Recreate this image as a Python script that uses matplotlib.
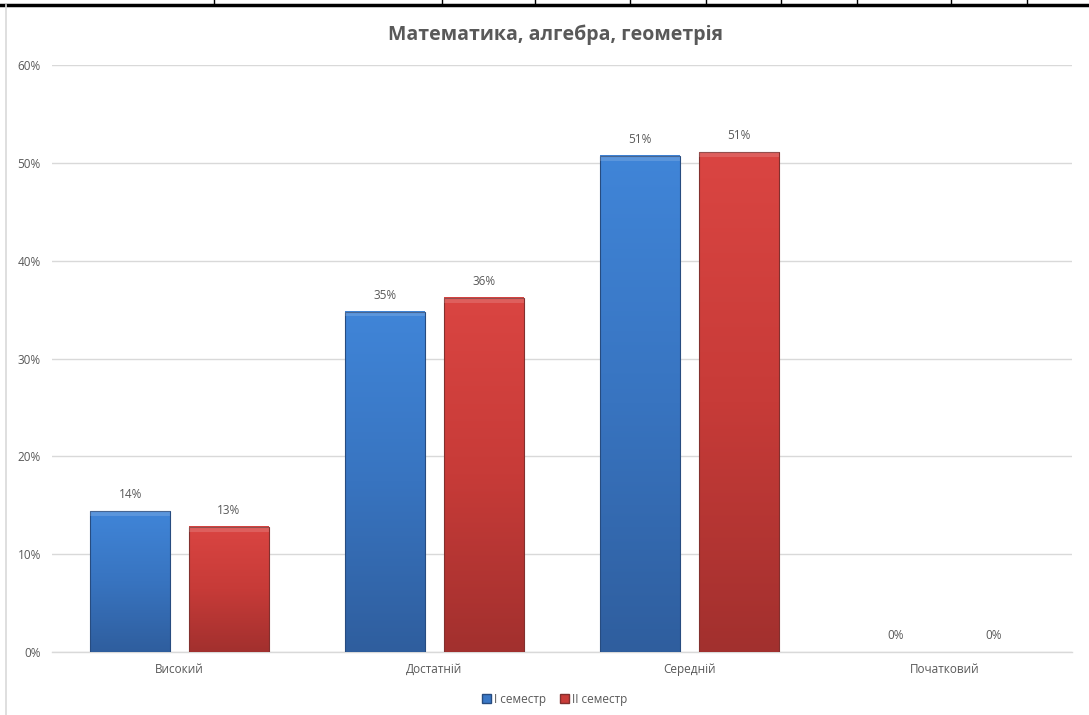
import matplotlib
matplotlib.use("Agg")
import matplotlib.pyplot as plt
import numpy as np
from matplotlib.colors import LinearSegmentedColormap
from matplotlib.patches import Patch
from matplotlib.lines import Line2D

categories = ["Високий", "Достатній", "Середній", "Початковий"]
sem1 = [0.144, 0.348, 0.507, 0.0]
sem2 = [0.128, 0.362, 0.511, 0.0]
series_names = ["I семестр", "II семестр"]
yticks = [0, 0.1, 0.2, 0.3, 0.4, 0.5, 0.6]

plt.rcParams['font.family'] = ['Open Sans', 'DejaVu Sans']

W, H = 1089, 715
fig = plt.figure(figsize=(W / 100, H / 100), dpi=100)
ax = fig.add_axes([52 / W, (H - 652) / H, (1072 - 52) / W, (652 - 65) / H])

x = np.arange(len(categories))
bw = 0.313
off = 0.193

blue_cmap = LinearSegmentedColormap.from_list("b", ["#2F5E9E", "#3874C0", "#4085D8"])
red_cmap = LinearSegmentedColormap.from_list("r", ["#A2302E", "#C73B38", "#DA4542"])

grad = np.linspace(0, 1, 256).reshape(-1, 1)
for vals, cmap, edge, sign in [(sem1, blue_cmap, "#274C80", -1), (sem2, red_cmap, "#82302E", 1)]:
    bars = ax.bar(x + sign * off, vals, bw, color="none", edgecolor="none", zorder=3)
    for b, v in zip(bars, vals):
        if v > 0:
            x0, y0, w, h = b.get_x(), b.get_y(), b.get_width(), b.get_height()
            ax.imshow(grad, extent=(x0, x0 + w, y0, y0 + h), origin="lower", cmap=cmap,
                      aspect="auto", zorder=3, interpolation="bilinear")
            ax.add_patch(plt.Rectangle((x0, y0), w, h, fill=False, edgecolor=edge,
                                       linewidth=0.8, zorder=4))
            ax.add_patch(plt.Rectangle((x0, y0 + h - 0.005), w, 0.005, facecolor="white",
                                       alpha=0.15, edgecolor="none", zorder=4))
        ax.annotate(f"{round(v * 100):.0f}%", (b.get_x() + b.get_width() / 2, v),
                    xytext=(0, 7), textcoords="offset points", ha="center", va="bottom",
                    fontsize=8.5, color="#595959", zorder=5)

ax.set_xlim(-0.5, len(categories) - 0.5)
ax.set_ylim(0, 0.6)
ax.set_yticks(yticks)
ax.set_yticklabels([f"{int(round(t * 100))}%" for t in yticks])
ax.set_xticks(x)
ax.set_xticklabels(categories)
ax.tick_params(axis="both", length=0, labelsize=8.5, labelcolor="#595959")
ax.tick_params(axis="y", pad=8)
ax.tick_params(axis="x", pad=8)
ax.grid(axis="y", color="#D9D9D9", linewidth=1, zorder=0)
ax.set_axisbelow(True)
for s in ["top", "right", "left"]:
    ax.spines[s].set_visible(False)
ax.spines["bottom"].set_color("#D9D9D9")
ax.spines["bottom"].set_linewidth(1)

fig.text(555 / W, 1 - 35 / H, "Математика, алгебра, геометрія", ha="center", va="center",
         fontsize=14, fontweight="bold", color="#595959")

handles = [Patch(facecolor="#3A78C6", edgecolor="#274C80"),
           Patch(facecolor="#C93C39", edgecolor="#82302E")]
fig.legend(handles, series_names, loc="center", bbox_to_anchor=(555 / W, 1 - 699 / H),
           ncol=2, frameon=False, fontsize=8.5, labelcolor="#595959",
           handlelength=0.7, handleheight=0.7, handletextpad=0.3, columnspacing=1.2)

# spreadsheet cell borders around the chart
fig.add_artist(Line2D([0, 1], [1 - 4.5 / H, 1 - 4.5 / H], color="black", linewidth=2.5,
                      transform=fig.transFigure))
for vx in [214, 442, 535, 630, 706, 781, 857, 951, 1027]:
    fig.add_artist(Line2D([vx / W, vx / W], [1 - 4 / H, 1], color="black", linewidth=1,
                          transform=fig.transFigure))
fig.add_artist(Line2D([6 / W, 6 / W], [0, 1 - 5 / H], color="#D9D9D9", linewidth=1.2,
                      transform=fig.transFigure))

fig.savefig("out.png", dpi=100)
